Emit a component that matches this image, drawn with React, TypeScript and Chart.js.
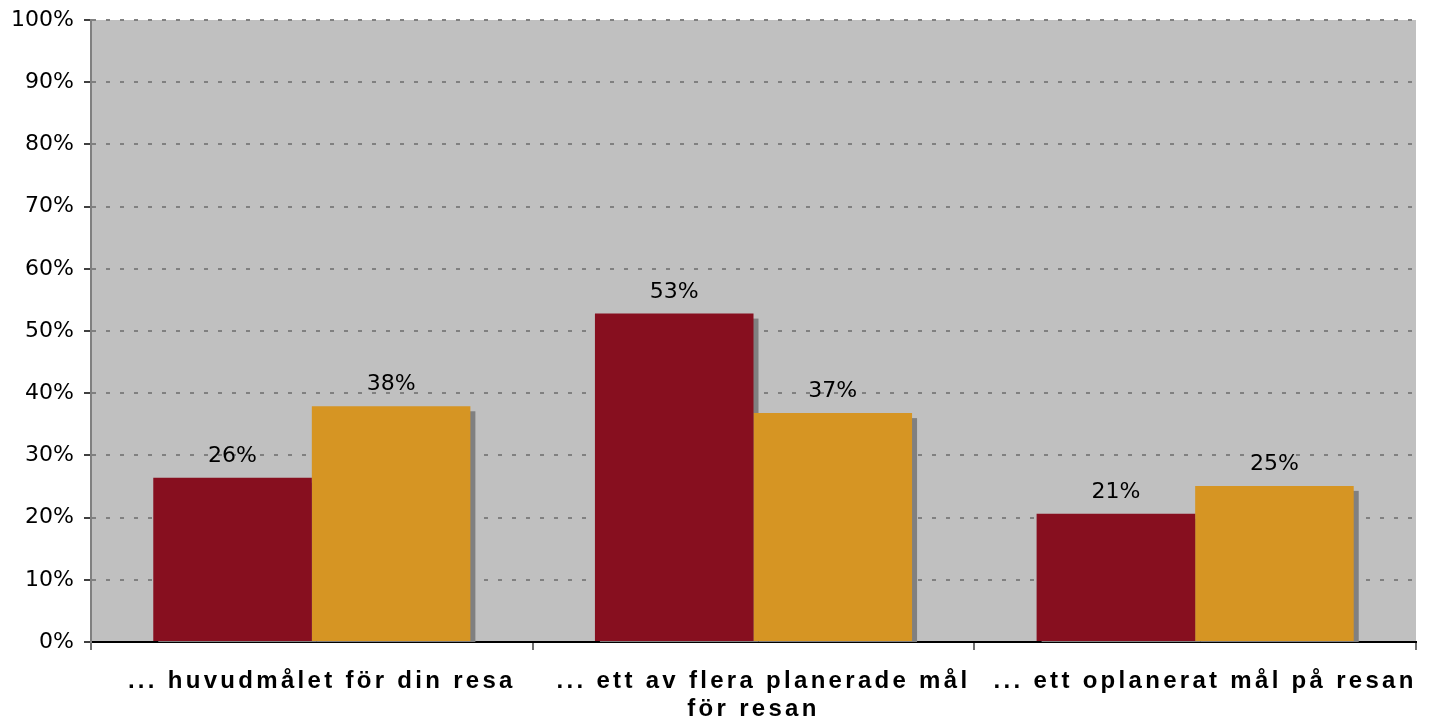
import React, { useEffect, useRef } from "react";
import { Chart, registerables } from "chart.js";

Chart.register(...registerables);

const categories: string[][] = [
  ["  ... huvudmålet för din resa"],
  ["  ... ett av flera planerade mål", "för resan"],
  ["  ... ett oplanerat mål på resan"],
];
const seriesA: number[] = [26.4, 52.8, 20.6];
const seriesB: number[] = [37.9, 36.8, 25.1];
const yTicks: number[] = [0, 10, 20, 30, 40, 50, 60, 70, 80, 90, 100];

const RED = "#870F1F";
const ORANGE = "#D69523";

const bgPlugin = {
  id: "plotBg",
  beforeDraw(chart: any) {
    const { ctx, chartArea } = chart;
    ctx.save();
    ctx.fillStyle = "#C0C0C0";
    ctx.fillRect(chartArea.left, chartArea.top, chartArea.right - chartArea.left, chartArea.bottom - chartArea.top);
    ctx.restore();
    const xs: any = chart.scales.x;
    if (xs && !xs.__spaced) {
      const orig = xs.drawLabels.bind(xs);
      xs.drawLabels = (area: any) => {
        const c: any = chart.ctx;
        c.save();
        c.letterSpacing = "3.3px";
        orig(area);
        c.restore();
      };
      xs.__spaced = true;
    }
  },
};

const shadowPlugin = {
  id: "barShadow",
  beforeDatasetsDraw(chart: any) {
    const { ctx, chartArea } = chart;
    ctx.save();
    ctx.beginPath();
    ctx.rect(chartArea.left, chartArea.top, chartArea.right - chartArea.left, chartArea.bottom - chartArea.top);
    ctx.clip();
    ctx.fillStyle = "#808080";
    chart.data.datasets.forEach((_ds: any, di: number) => {
      const meta = chart.getDatasetMeta(di);
      meta.data.forEach((bar: any) => {
        const p = bar.getProps(["x", "y", "base", "width"], true);
        const left = p.x - p.width / 2;
        ctx.fillRect(left + 5, p.y + 5, p.width, p.base - p.y);
      });
    });
    ctx.restore();
  },
  afterDatasetsDraw(chart: any) {
    const ctx = chart.ctx;
    ctx.save();
    ctx.font = "22px 'DejaVu Sans'";
    ctx.fillStyle = "#000";
    ctx.textAlign = "center";
    ctx.textBaseline = "alphabetic";
    chart.data.datasets.forEach((ds: any, di: number) => {
      const meta = chart.getDatasetMeta(di);
      meta.data.forEach((bar: any, i: number) => {
        const v = ds.data[i] as number;
        ctx.fillText(Math.round(v) + "%", bar.x, bar.y - 16);
      });
    });
    ctx.restore();
  },
};

export default function App() {
  const ref = useRef<HTMLCanvasElement | null>(null);
  useEffect(() => {
    if (!ref.current) return;
    const chart = new Chart(ref.current, {
      type: "bar",
      data: {
        labels: categories as any,
        datasets: [
          { data: seriesA, backgroundColor: RED, borderWidth: 0, categoryPercentage: 0.718, barPercentage: 1 },
          { data: seriesB, backgroundColor: ORANGE, borderWidth: 0, categoryPercentage: 0.718, barPercentage: 1 },
        ],
      },
      options: {
        responsive: false,
        animation: false,
        layout: { padding: { top: 20, right: 14, bottom: 0, left: 0 } },
        plugins: { legend: { display: false }, tooltip: { enabled: false } },
        scales: {
          x: {
            grid: {
              display: true,
              drawOnChartArea: false,
              drawTicks: true,
              offset: true,
              tickLength: 8,
              tickColor: "#707070",
              tickWidth: 2,
              color: "#707070",
              lineWidth: 2,
            },
            border: { display: true, color: "#000", width: 2 },
            ticks: {
              color: "#000",
              font: { family: "'Liberation Sans', Arial, sans-serif", size: 24, weight: "bold", lineHeight: 28 / 24 },
              padding: 17,
              maxRotation: 0,
              minRotation: 0,
              autoSkip: false,
            },
            afterFit: (s: any) => {
              s.height = 82;
              s.paddingLeft = 0;
              s.paddingRight = 0;
            },
          },
          y: {
            min: 0,
            max: 100,
            afterBuildTicks: (s: any) => {
              s.ticks = yTicks.map((v) => ({ value: v }));
            },
            grid: {
              color: (c: any) => (c.tick && c.tick.value === 0 ? "rgba(0,0,0,0)" : "#808080"),
              lineWidth: 2,
              tickColor: "#000",
              tickWidth: 1.5,
              tickLength: 7,
              tickBorderDash: [],
            },
            border: { display: true, color: "#808080", width: 2, dash: [4, 10] },
            ticks: {
              color: "#000",
              font: { family: "'DejaVu Sans', sans-serif", size: 22 },
              padding: 10,
              callback: (v: any) => v + "%",
            },
            afterFit: (s: any) => {
              s.width = 91;
              s.paddingTop = 0;
              s.paddingBottom = 0;
            },
          },
        },
      },
      plugins: [bgPlugin, shadowPlugin],
    });
    return () => chart.destroy();
  }, []);
  return (
    <div style={{ position: "fixed", left: 0, top: 0, width: 1430, height: 724, background: "#fff" }}>
      <canvas ref={ref} width={1430} height={724} style={{ display: "block" }} />
    </div>
  );
}
